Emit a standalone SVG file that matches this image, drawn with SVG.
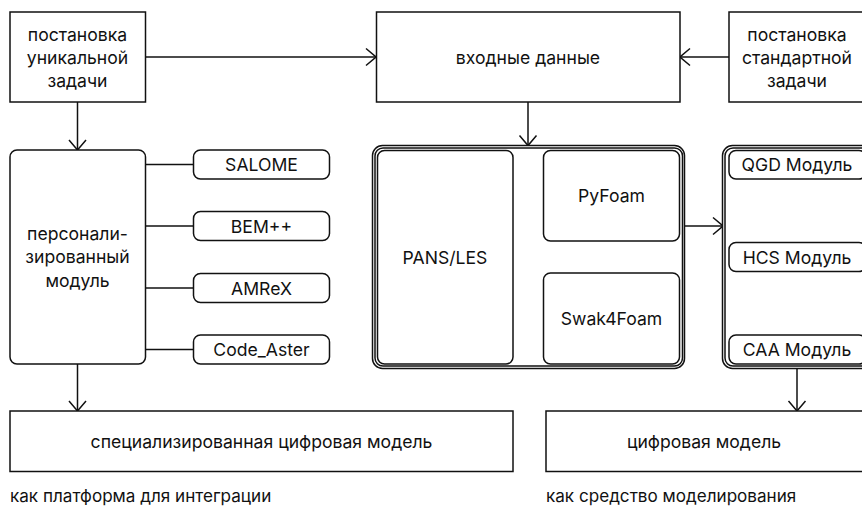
<svg xmlns="http://www.w3.org/2000/svg" width="862" height="506" viewBox="0 0 862 506">
<defs>
<style>
.b{fill:#fff;stroke:#111;stroke-width:1.5}
.c{fill:none;stroke:#111;stroke-width:1.5}
text{font-family:Inter,"Noto Sans",sans-serif;font-size:17.6px;fill:#111;text-anchor:middle;dominant-baseline:central}
.cap{text-anchor:start;font-size:17.1px}
</style>
<marker id="arr" viewBox="-12 -10 13 20" markerWidth="13" markerHeight="20" refX="0" refY="0" orient="auto" markerUnits="userSpaceOnUse"><path d="M-10,-8.5 L0,0 L-10,8.5" fill="none" stroke="#111" stroke-width="1.5"/></marker>
</defs>
<rect width="862" height="506" fill="#fff"/>
<g id="connectors">
<line class="c" x1="145.5" y1="57" x2="376" y2="57" marker-end="url(#arr)"/>
<line class="c" x1="729" y1="57" x2="680" y2="57" marker-end="url(#arr)"/>
<line class="c" x1="77.5" y1="102" x2="77.5" y2="150" marker-end="url(#arr)"/>
<line class="c" x1="528" y1="102" x2="528" y2="145.5" marker-end="url(#arr)"/>
<line class="c" x1="145.5" y1="164.5" x2="193.5" y2="164.5"/>
<line class="c" x1="145.5" y1="226" x2="193.5" y2="226"/>
<line class="c" x1="145.5" y1="288" x2="193.5" y2="288"/>
<line class="c" x1="145.5" y1="349.5" x2="193.5" y2="349.5"/>
<line class="c" x1="685" y1="226" x2="723" y2="226" marker-end="url(#arr)"/>
<line class="c" x1="77.5" y1="364" x2="77.5" y2="411" marker-end="url(#arr)"/>
<line class="c" x1="797" y1="368.5" x2="797" y2="411" marker-end="url(#arr)"/>
</g>
<g id="n_unique"><rect class="b" x="10" y="12" width="135.5" height="90"/>
<text x="77.5" y="34">постановка</text><text x="77.5" y="57">уникальной</text><text x="77.5" y="80">задачи</text></g>
<g id="n_input"><rect class="b" x="376.5" y="12" width="303.5" height="90"/><text x="528" y="57">входные данные</text></g>
<g id="n_standard"><rect class="b" x="729" y="12" width="137" height="90"/>
<text x="797" y="34">постановка</text><text x="797" y="57">стандартной</text><text x="797" y="80">задачи</text></g>
<g id="n_personal"><rect class="b" x="10" y="150" width="135.5" height="214" rx="7"/>
<text x="77.5" y="233">персонали-</text><text x="77.5" y="256.5">зированный</text><text x="77.5" y="280">модуль</text></g>
<g id="n_salome"><rect class="b" x="193.5" y="150" width="136" height="29" rx="7"/><text x="261.5" y="164.5">SALOME</text></g>
<g id="n_bem"><rect class="b" x="193.5" y="211.5" width="136" height="29" rx="7"/><text x="261.5" y="226">BEM++</text></g>
<g id="n_amrex"><rect class="b" x="193.5" y="273.5" width="136" height="29" rx="7"/><text x="261.5" y="288">AMReX</text></g>
<g id="n_aster"><rect class="b" x="193.5" y="335" width="136" height="29" rx="7"/><text x="261.5" y="349.5">Code_Aster</text></g>
<g id="n_openfoam">
<rect class="b" x="372.5" y="145.5" width="312" height="223" rx="10"/>
<rect class="b" x="375" y="148" width="307.5" height="218" rx="8"/>
</g>
<g id="n_pans"><rect class="b" x="377.5" y="150.5" width="135.5" height="213.5" rx="7"/><text x="445" y="257">PANS/LES</text></g>
<g id="n_pyfoam"><rect class="b" x="543.5" y="150.5" width="136" height="90.5" rx="7"/><text x="611.5" y="195">PyFoam</text></g>
<g id="n_swak"><rect class="b" x="543.5" y="273" width="136" height="91" rx="7"/><text x="611.5" y="318">Swak4Foam</text></g>
<g id="n_modules">
<rect class="b" x="722.5" y="145.5" width="150" height="223" rx="10"/>
<rect class="b" x="725" y="148" width="145" height="218" rx="8"/>
</g>
<g id="n_qgd"><rect class="b" x="729" y="150.5" width="137" height="28.5" rx="7"/><text x="797" y="164">QGD Модуль</text></g>
<g id="n_hcs"><rect class="b" x="729" y="242.5" width="137" height="29" rx="7"/><text x="797" y="257">HCS Модуль</text></g>
<g id="n_caa"><rect class="b" x="729" y="335" width="137" height="29" rx="7"/><text x="797" y="349">CAA Модуль</text></g>
<g id="n_special"><rect class="b" x="10" y="411" width="503" height="60.5"/><text x="261.5" y="441">специализированная цифровая модель</text></g>
<g id="n_digital"><rect class="b" x="546" y="411" width="320" height="60.5"/><text x="704" y="441">цифровая модель</text></g>
<g id="captions">
<text class="cap" x="10" y="495">как платформа для интеграции</text>
<text class="cap" x="546" y="495">как средство моделирования</text>
</g>
</svg>
